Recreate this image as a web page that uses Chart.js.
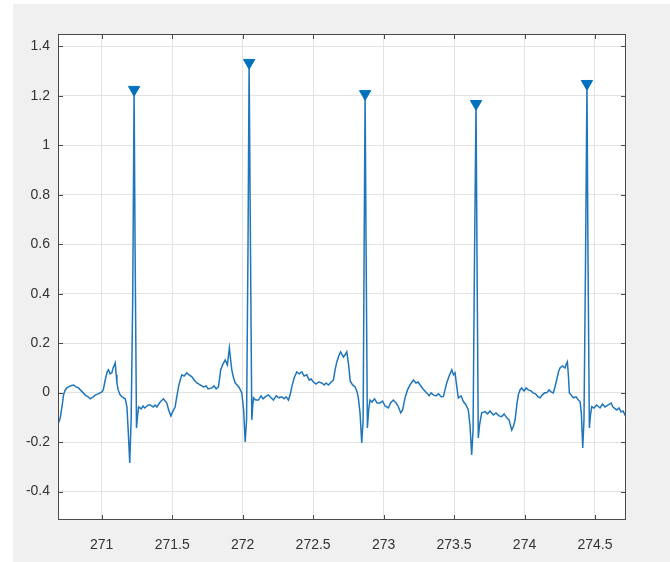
<!DOCTYPE html>
<html>
<head>
<meta charset="utf-8">
<script src="https://cdn.jsdelivr.net/npm/chart.js@4.4.0/dist/chart.umd.min.js"></script>
<style>
html, body { margin: 0; padding: 0; background: #fff; }
#wrap { width: 670px; height: 562px; }
</style>
</head>
<body>
<div id="wrap"><canvas id="ecg" width="670" height="562"></canvas></div>
<script>
// signal (seconds, mV)
var ecgTime = [
    270.691, 270.706, 270.720, 270.729, 270.741, 270.753, 270.777, 270.800, 270.819, 270.835,
    270.862, 270.883, 270.904, 270.918, 270.940, 270.954, 270.975, 271.001, 271.011, 271.025,
    271.039, 271.048, 271.060, 271.072, 271.081, 271.096, 271.103, 271.108, 271.117, 271.131,
    271.145, 271.167, 271.179, 271.188, 271.199, 271.209, 271.220, 271.230, 271.237, 271.247,
    271.255, 271.262, 271.280, 271.294, 271.305, 271.330, 271.344, 271.365, 271.379, 271.391,
    271.415, 271.438, 271.450, 271.462, 271.475, 271.491, 271.503, 271.521, 271.535, 271.545,
    271.557, 271.569, 271.585, 271.604, 271.620, 271.640, 271.656, 271.675, 271.699, 271.722,
    271.741, 271.755, 271.782, 271.798, 271.812, 271.828, 271.837, 271.844, 271.858, 271.876,
    271.892, 271.900, 271.906, 271.915, 271.923, 271.936, 271.947, 271.961, 271.977, 271.994,
    272.007, 272.018, 272.028, 272.038, 272.046, 272.053, 272.065, 272.072, 272.077,
    272.092, 272.112, 272.131, 272.145, 272.160, 272.183, 272.202, 272.218, 272.238, 272.259,
    272.278, 272.294, 272.308, 272.325, 272.337, 272.349, 272.365, 272.384, 272.401, 272.420,
    272.436, 272.455, 272.472, 272.486, 272.502, 272.521, 272.539, 272.562, 272.578, 272.592,
    272.609, 272.628, 272.644, 272.656, 272.668, 272.685, 272.695, 272.715, 272.727, 272.739,
    272.752, 272.763, 272.780, 272.798, 272.812, 272.821, 272.833, 272.845, 272.855, 272.862,
    272.869, 272.876, 272.885, 272.894, 272.904, 272.918, 272.936, 272.954, 272.975, 272.993,
    273.011, 273.034, 273.050, 273.069, 273.089, 273.105, 273.122, 273.135, 273.152, 273.170,
    273.188, 273.211, 273.230, 273.245, 273.259, 273.280, 273.306, 273.323, 273.337, 273.353,
    273.372, 273.390, 273.408, 273.424, 273.436, 273.448, 273.465, 273.484, 273.496, 273.507,
    273.518, 273.530, 273.550, 273.566, 273.585, 273.601, 273.613, 273.625, 273.635, 273.645,
    273.656, 273.663, 273.672, 273.681, 273.696, 273.720, 273.738, 273.755, 273.779, 273.798,
    273.819, 273.838, 273.855, 273.874, 273.890, 273.909, 273.922, 273.933, 273.947, 273.956,
    273.968, 273.980, 273.997, 274.011, 274.027, 274.046, 274.060, 274.078, 274.096, 274.110,
    274.127, 274.142, 274.157, 274.174, 274.188, 274.204, 274.216, 274.228, 274.241, 274.252,
    274.269, 274.287, 274.296, 274.304, 274.311, 274.318, 274.330, 274.346, 274.366, 274.382,
    274.394, 274.404, 274.413, 274.422, 274.433, 274.443, 274.450, 274.460, 274.468, 274.477,
    274.493, 274.511, 274.536, 274.553, 274.571, 274.594, 274.614, 274.628, 274.654, 274.670,
    274.685, 274.699, 274.713, 274.720
];
var ecgValue = [
    -0.127, -0.102, -0.050, -0.010, 0.011, 0.019, 0.027, 0.031, 0.023, 0.019,
    0.003, -0.010, -0.017, -0.025, -0.017, -0.010, -0.005, 0.003, 0.011, 0.051,
    0.084, 0.092, 0.076, 0.080, 0.100, 0.120, 0.072, 0.039, 0.011, -0.010,
    -0.017, -0.025, -0.058, -0.151, -0.284, -0.110, 0.375, 1.225, 0.577, -0.143,
    -0.090, -0.058, -0.066, -0.054, -0.062, -0.050, -0.050, -0.058, -0.050, -0.058,
    -0.038, -0.025, -0.034, -0.042, -0.070, -0.094, -0.078, -0.058, -0.009, 0.023,
    0.051, 0.072, 0.067, 0.080, 0.072, 0.064, 0.051, 0.039, 0.031, 0.023,
    0.027, 0.015, 0.019, 0.027, 0.015, 0.023, 0.059, 0.092, 0.112, 0.132,
    0.112, 0.153, 0.181, 0.132, 0.092, 0.059, 0.039, 0.031, 0.019, -0.001,
    -0.070, -0.199, -0.110, 0.577, 1.334, 0.780, -0.110, -0.050, -0.021,
    -0.030, -0.030, -0.013, -0.025, -0.017, -0.009, -0.021, -0.030, -0.013, -0.021,
    -0.017, -0.025, -0.017, -0.030, -0.009, 0.023, 0.059, 0.084, 0.076, 0.084,
    0.067, 0.072, 0.051, 0.055, 0.043, 0.035, 0.043, 0.039, 0.031, 0.039,
    0.031, 0.043, 0.051, 0.092, 0.124, 0.153, 0.165, 0.144, 0.153, 0.165,
    0.112, 0.047, 0.031, 0.023, 0.003, -0.021, -0.082, -0.203, -0.110, 0.577,
    1.208, 0.577, -0.143, -0.070, -0.030, -0.038, -0.025, -0.042, -0.042, -0.034,
    -0.054, -0.062, -0.042, -0.030, -0.042, -0.057, -0.082, -0.070, -0.021, 0.011,
    0.031, 0.051, 0.039, 0.043, 0.031, 0.015, -0.001, -0.013, -0.001, -0.009,
    -0.013, -0.005, -0.017, -0.016, 0.011, 0.039, 0.067, 0.092, 0.072, 0.080,
    0.031, -0.021, -0.013, -0.036, -0.050, -0.070, -0.131, -0.252, -0.151, 0.537,
    1.168, 0.537, -0.183, -0.131, -0.082, -0.077, -0.086, -0.074, -0.090, -0.082,
    -0.094, -0.097, -0.086, -0.102, -0.110, -0.151, -0.135, -0.110, -0.042, -0.009,
    0.011, 0.019, 0.007, 0.019, 0.011, 0.007, -0.001, -0.005, -0.017, -0.021,
    -0.009, -0.001, -0.001, 0.011, 0.003, -0.001, 0.023, 0.051, 0.084, 0.100,
    0.108, 0.100, 0.116, 0.125, 0.072, -0.001, -0.009, -0.021, -0.017, -0.030,
    -0.036, -0.090, -0.224, -0.110, 0.537, 1.249, 0.577, -0.143, -0.090, -0.057,
    -0.062, -0.050, -0.062, -0.046, -0.058, -0.050, -0.042, -0.058, -0.070, -0.062,
    -0.078, -0.074, -0.090, -0.098
];

// detected R peaks
var peakTime = [271.230, 272.046, 272.869, 273.656, 274.443];
var peakValue = [1.225, 1.334, 1.208, 1.168, 1.249];

var xTicks = [271, 271.5, 272, 272.5, 273, 273.5, 274, 274.5];
var yTicks = [-0.4, -0.2, 0, 0.2, 0.4, 0.6, 0.8, 1, 1.2, 1.4];

var lineBlue = '#1f76ba';
var markBlue = '#0072BD';

var ecgPoints = ecgTime.map(function(t, i) { return { x: t, y: ecgValue[i] }; });
var peakPoints = peakTime.map(function(t, i) { return { x: t, y: peakValue[i] }; });

// figure background, white axes, box with inward ticks
var matlabAxes = {
    id: 'matlabAxes',
    beforeDraw: function(chart) {
        var c = chart.ctx, a = chart.chartArea;
        c.save();
        c.fillStyle = '#ffffff';
        c.fillRect(0, 0, chart.width, chart.height);
        c.fillStyle = '#f0f0f0';
        c.fillRect(13, 4, chart.width - 13, chart.height - 4);
        c.fillStyle = '#ffffff';
        c.fillRect(a.left, a.top, a.right - a.left, a.bottom - a.top);
        c.restore();
    },
    afterDraw: function(chart) {
        var c = chart.ctx, a = chart.chartArea;
        var sx = chart.scales.x, sy = chart.scales.y;
        var len = 5;
        c.save();
        c.strokeStyle = '#4a4a4a';
        c.lineWidth = 1;
        c.beginPath();
        xTicks.forEach(function(v) {
            var px = Math.round(sx.getPixelForValue(v)) + 0.5;
            c.moveTo(px, a.bottom); c.lineTo(px, a.bottom - len);
            c.moveTo(px, a.top); c.lineTo(px, a.top + len);
        });
        yTicks.forEach(function(v) {
            var py = Math.round(sy.getPixelForValue(v)) + 0.5;
            c.moveTo(a.left, py); c.lineTo(a.left + len, py);
            c.moveTo(a.right, py); c.lineTo(a.right - len, py);
        });
        c.stroke();
        c.strokeRect(Math.round(a.left) + 0.5, Math.round(a.top) + 0.5,
            Math.round(a.right - a.left) - 1, Math.round(a.bottom - a.top) - 1);
        c.restore();
    }
};

var config = {
    type: 'line',
    data: {
        datasets: [{
            data: ecgPoints,
            borderColor: lineBlue,
            borderWidth: 1.5,
            pointRadius: 0,
            tension: 0,
            order: 2
        }, {
            data: peakPoints,
            showLine: false,
            pointStyle: 'triangle',
            rotation: 180,
            pointRadius: 6.5,
            pointBackgroundColor: markBlue,
            pointBorderColor: markBlue,
            pointBorderWidth: 1,
            order: 1
        }]
    },
    options: {
        responsive: false,
        animation: false,
        devicePixelRatio: 1,
        layout: { padding: { left: 0, top: 34, right: 44, bottom: 0 } },
        plugins: { legend: { display: false }, tooltip: { enabled: false } },
        scales: {
            x: {
                type: 'linear',
                min: 270.69,
                max: 274.72,
                afterFit: function(s) { s.height = 42; },
                afterBuildTicks: function(s) { s.ticks = xTicks.map(function(v) { return { value: v }; }); },
                grid: { color: '#e3e3e3', drawTicks: false },
                border: { display: false },
                ticks: {
                    padding: 17,
                    maxRotation: 0,
                    color: '#333333',
                    font: { family: 'Liberation Sans', size: 14 },
                    callback: function(v) { return String(v); }
                }
            },
            y: {
                min: -0.515,
                max: 1.45,
                afterFit: function(s) { s.width = 58; },
                afterBuildTicks: function(s) { s.ticks = yTicks.map(function(v) { return { value: v }; }); },
                grid: { color: '#e3e3e3', drawTicks: false },
                border: { display: false },
                ticks: {
                    padding: 8,
                    color: '#333333',
                    font: { family: 'Liberation Sans', size: 14 },
                    callback: function(v) { return String(Math.round(v * 10) / 10); }
                }
            }
        }
    },
    plugins: [matlabAxes]
};

window.onload = function() {
    var ctx = document.getElementById('ecg').getContext('2d');
    window.ecgChart = new Chart(ctx, config);
};
</script>
</body>
</html>
